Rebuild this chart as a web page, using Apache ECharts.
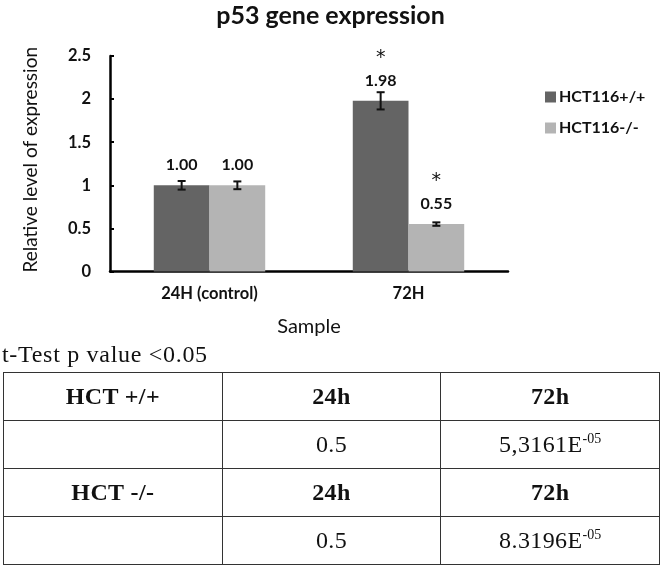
<!DOCTYPE html>
<html>
<head>
<meta charset="utf-8">
<script src="https://cdn.jsdelivr.net/npm/echarts@6/dist/echarts.min.js"></script>
<style>
  html, body { margin: 0; padding: 0; background: #fff; }
  #wrap { position: relative; width: 661px; height: 568px; overflow: hidden; }
  #chart { position: absolute; left: 0; top: 0; width: 661px; height: 568px; }
  #note { position: absolute; left: 2px; top: 341px; font: 24px "Liberation Serif", serif; letter-spacing: 0.7px; color: #111; }
  table { position: absolute; left: 3px; top: 372px; width: 657px; border-collapse: collapse;
    font-family: "Liberation Serif", serif; color: #111; }
  td { border: 1.5px solid #333; height: 47px; padding: 0; text-align: center; font-size: 24px;
    letter-spacing: 0.4px; width: 33.3%; }
  td.b { font-weight: bold; }
  sup { font-size: 14px; vertical-align: 9px; line-height: 0; letter-spacing: 0; }
</style>
</head>
<body>
<div id="wrap">
  <div id="chart"></div>
  <div id="note"></div>
  <table id="tbl"></table>
</div>
<script>
// chart data
const categories = ['24H (control)', '72H']
const seriesNames = ['HCT116+/+', 'HCT116-/-']
const hctPos = [1.00, 1.98]
const hctNeg = [1.00, 0.55]
const errPos = [0.05, 0.10]
const errNeg = [0.045, 0.02]
const sigPos = ['', '*']
const sigNeg = ['', '*']
const yTicks = [0, 0.5, 1, 1.5, 2, 2.5]

// t-test table
const tableNote = 't-Test p value <0.05'
const tableRows = [
  [['HCT +/+', 'b'], ['24h', 'b'], ['72h', 'b']],
  [['', ''], ['0.5', ''], ['5,3161E<sup>-05</sup>', '']],
  [['HCT -/-', 'b'], ['24h', 'b'], ['72h', 'b']],
  [['', ''], ['0.5', ''], ['8.3196E<sup>-05</sup>', '']]
]

const colors = ['#646464', '#b4b4b4']
const barFrac = 0.28
const font = 'Lato, "Open Sans", sans-serif'

document.getElementById('note').textContent = tableNote
document.getElementById('tbl').innerHTML = tableRows.map(r =>
  '<tr>' + r.map(c => '<td class="' + c[1] + '">' + c[0] + '</td>').join('') + '</tr>'
).join('')

function labelFor(sig) {
  return p => {
    const v = p.value.toFixed(2)
    return sig[p.dataIndex] ? '{s|' + sig[p.dataIndex] + '}\n{v|' + v + '}' : '{v|' + v + '}'
  }
}

const labelRich = {
  v: { fontFamily: font, fontSize: 16, fontWeight: 'bold', color: '#111', lineHeight: 18 },
  s: { fontFamily: '"DejaVu Sans", sans-serif', fontSize: 19, color: '#111', lineHeight: 28 }
}

function errorSeries(vals, errs, side) {
  return {
    type: 'custom',
    silent: true,
    z: 5,
    data: vals.map((v, i) => [i, v - errs[i], v + errs[i]]),
    renderItem(params, api) {
      const band = api.size([1, 0])[0]
      const dx = side * band * barFrac / 2
      const lo = api.coord([api.value(0), api.value(1)])
      const hi = api.coord([api.value(0), api.value(2)])
      const x = lo[0] + dx
      const cap = 4
      const style = { stroke: '#111', lineWidth: 2 }
      return {
        type: 'group',
        children: [
          { type: 'line', shape: { x1: x, y1: lo[1], x2: x, y2: hi[1] }, style },
          { type: 'line', shape: { x1: x - cap, y1: lo[1], x2: x + cap, y2: lo[1] }, style },
          { type: 'line', shape: { x1: x - cap, y1: hi[1], x2: x + cap, y2: hi[1] }, style }
        ]
      }
    }
  }
}

const chart = echarts.init(document.getElementById('chart'))
chart.setOption({
  animation: false,
  textStyle: { fontFamily: font },
  title: {
    text: 'p53 gene expression',
    left: 'center',
    top: -2,
    textStyle: { fontFamily: font, fontSize: 25, fontWeight: 'bold', color: '#111' }
  },
  legend: {
    orient: 'vertical',
    left: 545,
    top: 89,
    padding: 0,
    itemWidth: 11,
    itemHeight: 11,
    itemGap: 15,
    icon: 'rect',
    data: seriesNames,
    textStyle: { fontFamily: font, fontSize: 16, fontWeight: 'bold', color: '#111', padding: [0, 0, 0, -2] }
  },
  grid: { left: 110, top: 56, width: 398, height: 215.5 },
  xAxis: {
    type: 'category',
    data: categories,
    name: 'Sample',
    nameLocation: 'middle',
    nameGap: 45,
    nameTextStyle: { fontFamily: font, fontSize: 20, color: '#111' },
    axisLine: { lineStyle: { color: '#000', width: 2.5 } },
    axisTick: { alignWithLabel: true, length: 4, lineStyle: { color: '#000', width: 2 } },
    axisLabel: { margin: 14, fontFamily: font, fontSize: 16.5, fontWeight: 'bold', color: '#111' }
  },
  yAxis: {
    type: 'value',
    min: yTicks[0],
    max: yTicks[yTicks.length - 1],
    interval: yTicks[1] - yTicks[0],
    name: 'Relative level of expression',
    nameLocation: 'middle',
    nameGap: 70,
    nameTextStyle: { fontFamily: font, fontSize: 19, color: '#111', padding: [0, 0, 0, 8] },
    axisLine: { show: true, lineStyle: { color: '#000', width: 2.5 } },
    axisTick: { show: true, inside: true, length: 4, lineStyle: { color: '#000', width: 2 } },
    splitLine: { show: false },
    axisLabel: { margin: 19, fontFamily: font, fontSize: 16.5, fontWeight: 'bold', color: '#111',
      formatter: v => String(v) }
  },
  series: [
    {
      name: seriesNames[0],
      type: 'bar',
      data: hctPos,
      barWidth: (barFrac * 100) + '%',
      barGap: '0%',
      itemStyle: { color: colors[0] },
      label: { show: true, position: 'top', distance: 11, formatter: labelFor(sigPos), rich: labelRich }
    },
    {
      name: seriesNames[1],
      type: 'bar',
      data: hctNeg,
      barWidth: (barFrac * 100) + '%',
      barGap: '0%',
      itemStyle: { color: colors[1] },
      label: { show: true, position: 'top', distance: 11, formatter: labelFor(sigNeg), rich: labelRich }
    },
    errorSeries(hctPos, errPos, -1),
    errorSeries(hctNeg, errNeg, 1)
  ]
})
</script>
</body>
</html>
